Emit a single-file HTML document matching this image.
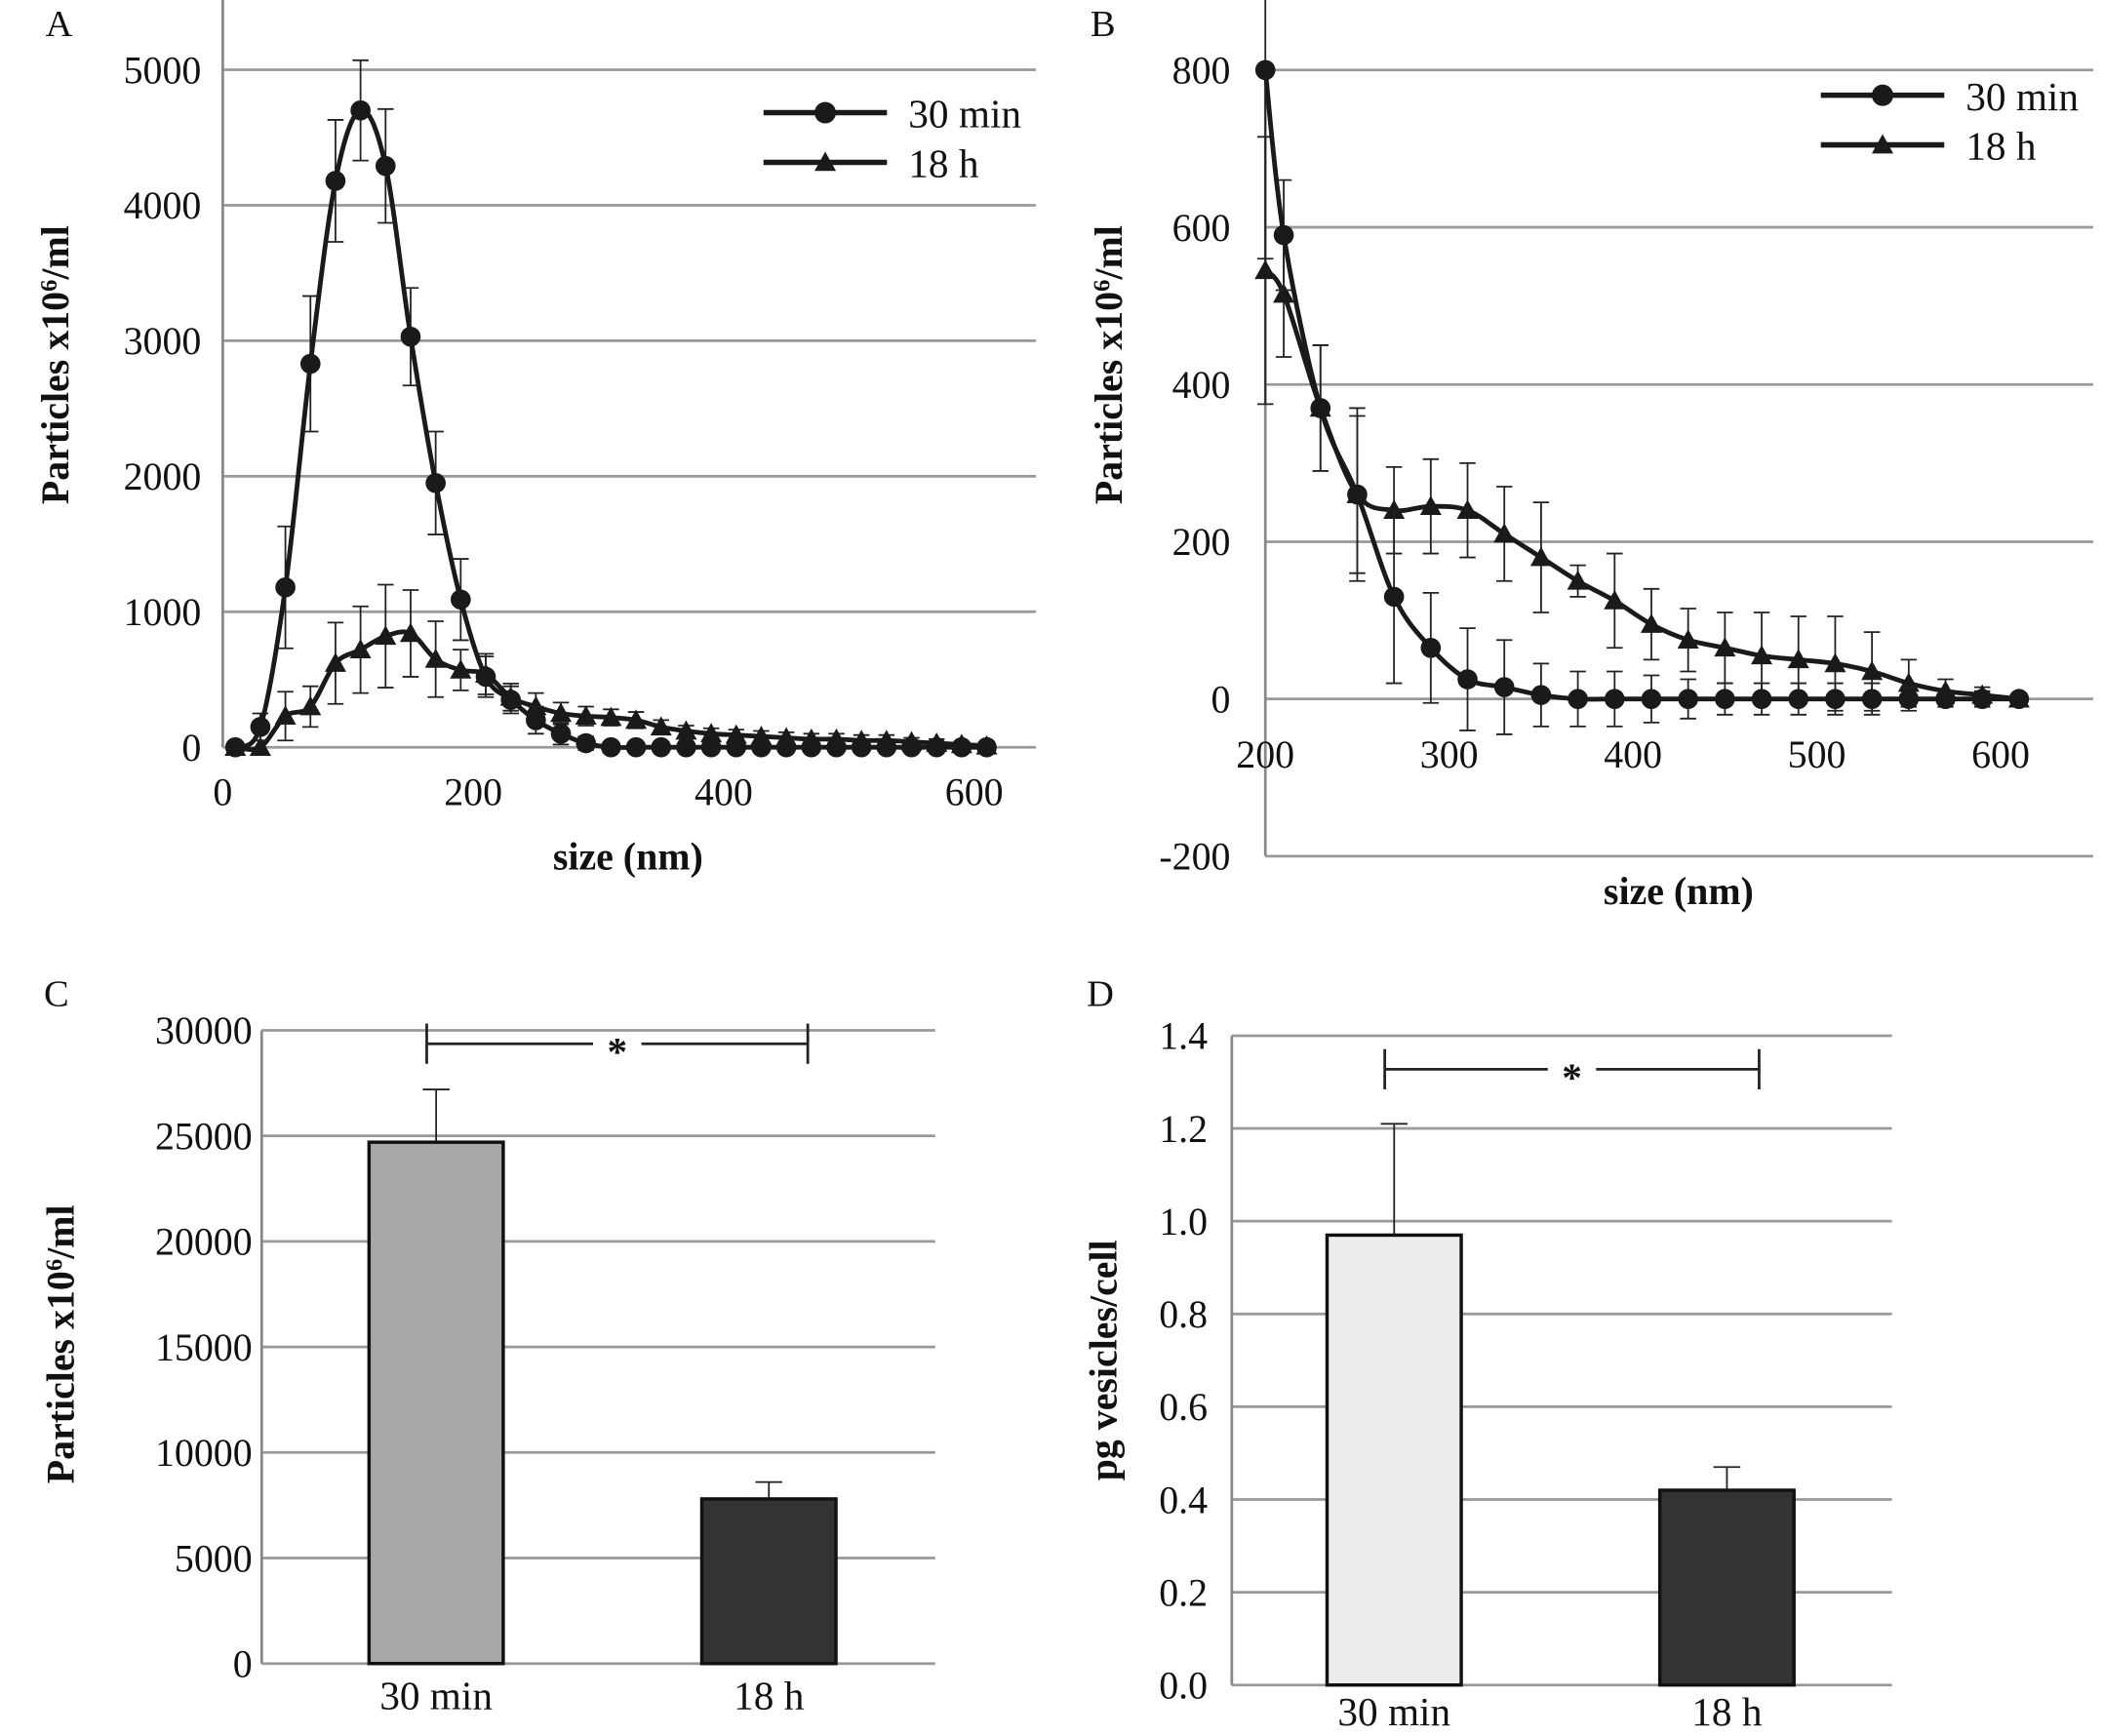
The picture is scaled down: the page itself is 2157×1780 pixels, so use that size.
<!DOCTYPE html>
<html><head><meta charset="utf-8"><style>
html,body{margin:0;padding:0;background:#fff}
svg{display:block}
text{font-family:"Liberation Serif",serif;fill:#111}
</style></head><body>
<svg id="fig" width="2157" height="1780" viewBox="0 0 1568 1294" xmlns="http://www.w3.org/2000/svg"></svg>
<script>
// ---------- Panel A data ----------
const sizesA = [10,30,50,70,90,110,130,150,170,190,210,230,250,270,290,310,330,350,370,390,410,430,450,470,490,510,530,550,570,590,610];
const a30 = [0,150,1180,2830,4180,4700,4290,3030,1950,1090,520,350,200,100,30,0,0,0,0,0,0,0,0,0,0,0,0,0,0,0,0];
const a30err = [0,100,450,500,450,370,420,360,380,300,150,100,100,80,50,30,20,20,20,20,20,20,20,20,20,20,20,20,20,20,20];
const a18 = [0,0,230,300,620,720,820,840,650,570,540,370,300,250,230,220,200,150,120,100,90,80,70,60,60,50,50,40,30,20,10];
const a18err = [0,50,180,150,300,320,380,320,280,150,150,100,100,80,70,60,60,50,40,40,40,40,40,40,40,40,40,30,30,20,20];
const ticksAx = [0,200,400,600];
const ticksAy = [0,1000,2000,3000,4000,5000];
// ---------- Panel B data ----------
const sizesB = [200,210,230,250,270,290,310,330,350,370,390,410,430,450,470,490,510,530,550,570,590,610];
const b30 = [800,590,370,260,130,65,25,15,5,0,0,0,0,0,0,0,0,0,0,0,0,0];
const b30err = [240,70,80,110,110,70,65,60,40,35,35,30,25,20,20,20,20,20,15,10,10,5];
const b18 = [545,515,370,260,240,245,240,210,180,150,125,95,75,65,55,50,45,35,20,10,5,0];
const b18err = [170,80,80,100,55,60,60,60,70,20,60,45,40,45,55,55,60,50,30,15,10,5];
const ticksBx = [200,300,400,500,600];
const ticksBy = [-200,0,200,400,600,800];
// ---------- Panel C data ----------
const catsC = ["30 min","18 h"];
const valsC = [24700,7800];
const errC = [2500,800];
const ticksCy = [0,5000,10000,15000,20000,25000,30000];
// ---------- Panel D data ----------
const catsD = ["30 min","18 h"];
const valsD = [0.97,0.42];
const errD = [0.24,0.05];
const ticksDy = [0.0,0.2,0.4,0.6,0.8,1.0,1.2,1.4];

const NS="http://www.w3.org/2000/svg";
const svg=document.getElementById('fig');
function mk(tag,attrs,parent){const e=document.createElementNS(NS,tag);for(const k in attrs)e.setAttribute(k,attrs[k]);(parent||svg).appendChild(e);return e;}
function txt(s,x,y,size,anchor,weight,parent){const t=mk('text',{x:x,y:y,'font-size':size,'text-anchor':anchor||'middle','font-weight':weight||'normal'},parent);t.textContent=s;return t;}
function smooth(pts){let d='M'+pts[0][0]+','+pts[0][1];for(let i=0;i<pts.length-1;i++){const p0=pts[Math.max(0,i-1)],p1=pts[i],p2=pts[i+1],p3=pts[Math.min(pts.length-1,i+2)];const c1x=p1[0]+(p2[0]-p0[0])/6,c1y=p1[1]+(p2[1]-p0[1])/6,c2x=p2[0]-(p3[0]-p1[0])/6,c2y=p2[1]-(p3[1]-p1[1])/6;d+=` C${c1x},${c1y} ${c2x},${c2y} ${p2[0]},${p2[1]}`;}return d;}
function tri(x,y,r){return `${x},${y-r} ${x+r},${y+r*0.8} ${x-r},${y+r*0.8}`;}
function errbar(g,x,y1,y2,w){mk('line',{x1:x,y1:y1,x2:x,y2:y2,stroke:'#222','stroke-width':1.3},g);mk('line',{x1:x-w,y1:y1,x2:x+w,y2:y1,stroke:'#222','stroke-width':1.3},g);mk('line',{x1:x-w,y1:y2,x2:x+w,y2:y2,stroke:'#222','stroke-width':1.3},g);}

function linePanel(o){
  const g=mk('g',{});
  
  
  const X=v=>o.x0+(v-o.xmin)*o.xs, Y=v=>o.y0-(v-o.ymin)*o.ys;
  o.yt.forEach(t=>{const gl=mk('line',{x1:o.gx1,x2:o.gx2,y1:Y(t),y2:Y(t),stroke:'#999','stroke-width':2},g);
    
    const tl=txt(String(t),o.ylx,Y(t)+10,29,'end','normal',g);});
  const ax=mk('line',{x1:o.gx1,x2:o.gx1,y1:o.ay1,y2:o.ay2,stroke:'#888','stroke-width':2},g);
  
  o.xt.forEach(t=>{const tl=txt(String(t),X(t),o.xly,29,'middle','normal',g);});
  [[o.s18,o.e18,o.xs18,'tri','series-18h'],[o.s30,o.e30,o.xs30,'circ','series-30min']].forEach(([vals,errs,xsz,m,nm])=>{
    const sg=mk('g',{},g);
    const pts=vals.map((v,i)=>[X(xsz[i]),Y(v)]);
    vals.forEach((v,i)=>{if(errs[i]>0)errbar(sg,X(xsz[i]),Y(v+errs[i]),Y(v-errs[i]),6);});
    mk('path',{d:smooth(pts),fill:'none',stroke:'#1a1a1a','stroke-width':3.5},sg);
    pts.forEach(p=>{const mm=m==='circ'?mk('circle',{cx:p[0],cy:p[1],r:7.5,fill:'#1a1a1a'},sg):mk('polygon',{points:tri(p[0],p[1],8),fill:'#1a1a1a'},sg);
      });
  });
  const lg=mk('g',{},g);
  mk('line',{x1:o.lx,x2:o.lx+92,y1:o.ly,y2:o.ly,stroke:'#1a1a1a','stroke-width':4},lg);
  mk('circle',{cx:o.lx+46,cy:o.ly,r:8,fill:'#1a1a1a'},lg);
  txt('30 min',o.lx+108,o.ly+11,30,'start','normal',lg);
  mk('line',{x1:o.lx,x2:o.lx+92,y1:o.ly+37,y2:o.ly+37,stroke:'#1a1a1a','stroke-width':4},lg);
  mk('polygon',{points:tri(o.lx+46,o.ly+37,8),fill:'#1a1a1a'},lg);
  txt('18 h',o.lx+108,o.ly+48,30,'start','normal',lg);
  return {g,X,Y};
}

function barPanel(o){
  const g=mk('g',{});
  
  
  const Y=v=>o.y0-v*o.ys;
  o.yt.forEach(t=>{const gl=mk('line',{x1:o.gx1,x2:o.gx2,y1:Y(t),y2:Y(t),stroke:'#999','stroke-width':2},g);
    
    const tl=txt(o.fmt(t),o.ylx,Y(t)+10,29,'end','normal',g);});
  const ax=mk('line',{x1:o.gx1,x2:o.gx1,y1:Y(o.yt[o.yt.length-1]),y2:o.y0,stroke:'#888','stroke-width':2},g);
  
  o.vals.forEach((v,i)=>{const cx=o.cx[i];
    errbar(g,cx,Y(v+o.errs[i]),Y(v),10);
    const r=mk('rect',{x:cx-50,y:Y(v),width:100,height:o.y0-Y(v),fill:o.fills[i],stroke:'#111','stroke-width':2.5},g);
    
    const tl=txt(o.cats[i],cx,o.xly,30,'middle','normal',g);});
  const sig=mk('g',{},g);
  const by=o.by;
  mk('line',{x1:o.cx[0]-7,x2:o.cx[0]-7,y1:by-15,y2:by+15,stroke:'#222','stroke-width':2},sig);
  mk('line',{x1:o.cx[1]+29-o.bo,x2:o.cx[1]+29-o.bo,y1:by-15,y2:by+15,stroke:'#222','stroke-width':2},sig);
  const mid=(o.cx[0]-7+o.cx[1]+29-o.bo)/2;
  mk('line',{x1:o.cx[0]-7,x2:mid-18,y1:by,y2:by,stroke:'#222','stroke-width':2},sig);
  mk('line',{x1:mid+18,x2:o.cx[1]+29-o.bo,y1:by,y2:by,stroke:'#222','stroke-width':2},sig);
  txt('*',mid,by+16,30,'middle','bold',sig);
}

linePanel({name:'panel-a-chart',x0:166,xmin:0,xs:0.9333,y0:557,ymin:0,ys:0.101,gx1:166,gx2:772,ay1:0,ay2:557,ylx:150,xly:600,
  xt:ticksAx,yt:ticksAy,s30:a30,e30:a30err,xs30:sizesA,s18:a18,e18:a18err,xs18:sizesA,lx:569,ly:84});
linePanel({name:'panel-b-chart',x0:943,xmin:200,xs:1.37,y0:521,ymin:0,ys:0.586,gx1:943,gx2:1560,ay1:48,ay2:638,ylx:917,xly:572,
  xt:ticksBx,yt:ticksBy,s30:b30,e30:b30err,xs30:sizesB,s18:b18,e18:b18err,xs18:sizesB,lx:1357,ly:71});
barPanel({name:'panel-c-chart',y0:1240,ys:472/30000,gx1:195,gx2:697,ylx:188,xly:1274,yt:ticksCy,fmt:t=>String(t),
  vals:valsC,errs:errC,cats:catsC,cx:[325,573],fills:['#a8a8a8','#333'],by:778,bo:0});
barPanel({name:'panel-d-chart',y0:1256,ys:484/1.4,gx1:918,gx2:1410,ylx:900,xly:1286,yt:ticksDy,fmt:t=>t.toFixed(1),
  vals:valsD,errs:errD,cats:catsD,cx:[1039,1287],fills:['#ececec','#333'],by:797,bo:5});

[['A',44,27],['B',822,27],['C',42,750],['D',820,750]].forEach(([s,x,y])=>{const t=txt(s,x,y,28,'middle','normal');});
let t;
t=txt('size (nm)',468,648,29,'middle','bold');
t=txt('size (nm)',1251,674,29,'middle','bold');
function ytitle(x,y,name,html){const e=mk('text',{x:0,y:0,'font-size':29,'font-weight':'bold','text-anchor':'middle',transform:`translate(${x},${y}) rotate(-90)`});e.innerHTML=html;}
ytitle(51,272,'y-axis-title-a','Particles  x10<tspan dy="-9" font-size="18">6</tspan><tspan dy="9">/ml</tspan>');
ytitle(836,272,'y-axis-title-b','Particles  x10<tspan dy="-9" font-size="18">6</tspan><tspan dy="9">/ml</tspan>');
ytitle(55,1002,'y-axis-title-c','Particles  x10<tspan dy="-9" font-size="18">6</tspan><tspan dy="9">/ml</tspan>');
ytitle(832,1014,'y-axis-title-d','pg vesicles/cell');
</script>
</body></html>
